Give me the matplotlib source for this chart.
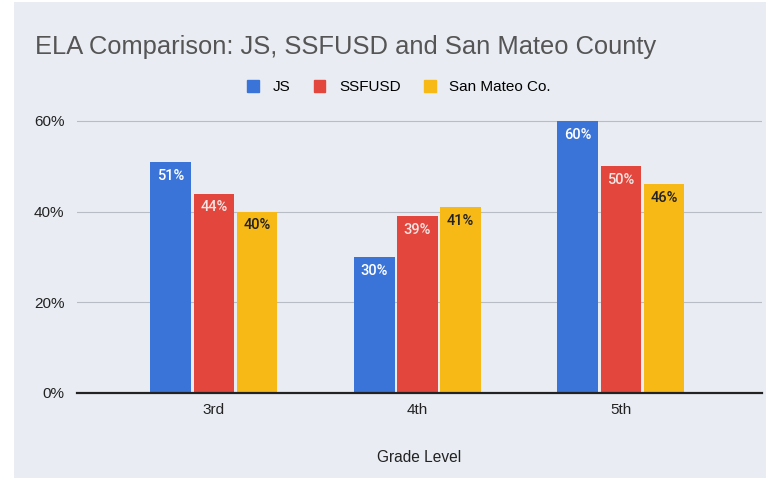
import matplotlib
matplotlib.use('Agg')
import matplotlib.pyplot as plt
import numpy as np
from matplotlib.patches import Rectangle

plt.rcParams['font.family'] = ['Liberation Sans', 'DejaVu Sans']

grades = ['3rd', '4th', '5th']
series_names = ['JS', 'SSFUSD', 'San Mateo Co.']
js = [51, 30, 60]
ssfusd = [44, 39, 50]
san_mateo = [40, 41, 46]
yticks = [0, 20, 40, 60]

colors = ['#3b74d9', '#e2463d', '#f7b916']
label_colors = ['white', '#f4e6e4', '#222222']
BG = '#e9edf3'

fig = plt.figure(figsize=(7.78, 4.8), dpi=100)
fig.patch.set_facecolor('white')
bg = Rectangle((14 / 778, 0.005), 752 / 778, 0.99, transform=fig.transFigure,
               facecolor=BG, edgecolor='none', zorder=-5)
fig.add_artist(bg)

ax = fig.add_axes([77 / 778, 1 - 393 / 480, 685 / 778, 272 / 480 * 62 / 60])
ax.set_facecolor('none')
ax.set_zorder(2)

x = np.arange(len(grades))
width = 0.2
gap = 0.012
for i, (vals, c, lc) in enumerate(zip([js, ssfusd, san_mateo], colors, label_colors)):
    off = (i - 1) * (width + gap)
    ax.bar(x + off, vals, width, color=c, zorder=3)
    for j, v in enumerate(vals):
        ax.text(x[j] + off, v - 1.5, f'{v}%', ha='center', va='top', fontsize=10.5,
                color=lc, fontweight='medium', family=['Roboto', 'DejaVu Sans'], zorder=4)

ax.set_xlim(-0.673, 2.693)
ax.set_ylim(0, 62)
ax.set_yticks(yticks)
ax.set_yticklabels([f'{t}%' for t in yticks])
ax.set_xticks(x)
ax.set_xticklabels(grades)
ax.tick_params(axis='both', length=0, labelsize=11, colors='#222222')
ax.tick_params(axis='y', pad=9)
ax.tick_params(axis='x', pad=7)
ax.grid(axis='y', color='#b8bcc4', lw=0.8, zorder=1)
for s in ['top', 'right', 'left']:
    ax.spines[s].set_visible(False)
ax.spines['bottom'].set_color('#222222')
ax.spines['bottom'].set_linewidth(1.6)
ax.spines['bottom'].set_zorder(5)
ax.set_xlabel('Grade Level', fontsize=11.2, color='#222222', labelpad=24)

fig.text(35 / 778, 1 - 47 / 480, 'ELA Comparison: JS, SSFUSD and San Mateo County',
         fontsize=18.4, color='#555555', va='center', ha='left')

handles = [Rectangle((0, 0), 1, 1, color=c) for c in colors]
fig.legend(handles, series_names, loc='center', bbox_to_anchor=(399 / 778, 1 - 87 / 480),
           ncol=3, frameon=False, prop={'size': 11},
           handlelength=0.75, handleheight=0.9, handletextpad=0.9, columnspacing=1.55)

fig.savefig('out.png', dpi=100, facecolor='white')
